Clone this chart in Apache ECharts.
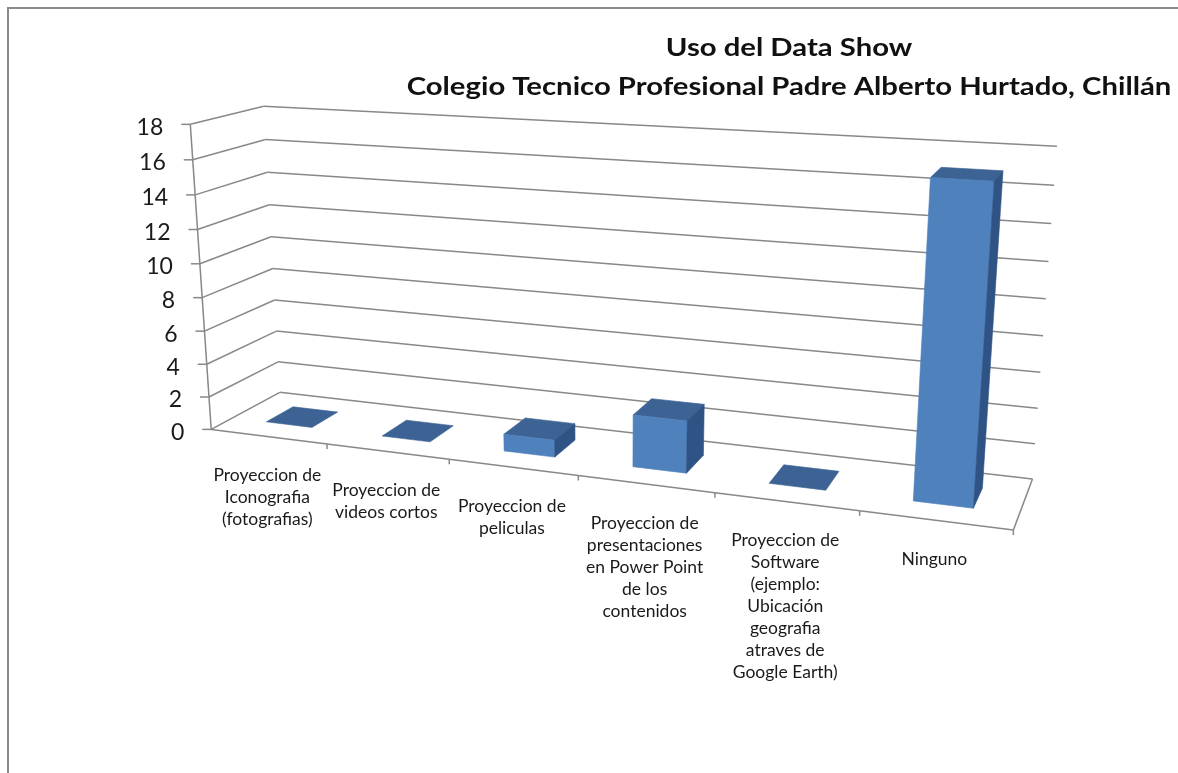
<!DOCTYPE html>
<html>
<head>
<meta charset="utf-8">
<script src="https://cdn.jsdelivr.net/npm/echarts@6/dist/echarts.min.js"></script>
<style>
  html, body { margin: 0; padding: 0; background: #ffffff; }
  #chart { width: 1178px; height: 773px; }
</style>
</head>
<body>
<div id="chart"></div>
<script>
// ---- data ----
const categories = [
  'Proyeccion de\nIconografia\n(fotografias)',
  'Proyeccion de\nvideos cortos',
  'Proyeccion de\npeliculas',
  'Proyeccion de\npresentaciones\nen Power Point\nde los\ncontenidos',
  'Proyeccion de\nSoftware\n(ejemplo:\nUbicación\ngeografia\natraves de\nGoogle Earth)',
  'Ninguno'
];
const values = [0, 0, 1, 3, 0, 17];
const yTicks = [0, 2, 4, 6, 8, 10, 12, 14, 16, 18];
const titleLines = ['Uso del Data Show', 'Colegio Tecnico Profesional Padre Alberto Hurtado, Chillán'];

// ---- look ----
const FONT = 'Lato, "Open Sans", "DejaVu Sans", sans-serif';
const GRID_COLOR = '#888888';
const FACE_FRONT = '#4F81BD';
const FACE_TOP = '#3C6393';
const FACE_SIDE = '#2F5384';
const BAR_WIDTH = 0.4;          // share of a category slot
const BAR_DEPTH = [0.3, 0.7];   // front / back of the bars inside the floor depth
const N_CAT = categories.length;
const Y_MAX = yTicks[yTicks.length - 1];

// ---- 3D box layout: model corners (category units, value fraction, depth) -> page position ----
const frameAnchors = [
  [0, 0, 0, 212, 428], [0, 1, 0, 191, 123], [0, 0, 1, 280, 392], [0, 1, 1, 263, 107],
  [6, 0, 1, 1033, 478], [6, 1, 1, 1057, 147], [6, 0, 0, 1013, 528],
  [1, 0, 0, 327, 445], [2, 0, 0, 448, 460], [3, 0, 0, 578, 477], [4, 0, 0, 715, 493], [5, 0, 0, 860, 512]
];

// least-squares fit of a 3x4 perspective matrix (last entry fixed to 1)
function solveProjection(pts) {
  const A = [], b = [];
  pts.forEach(([X, Y, Z, u0, v0]) => {
    const u = u0 / 1000, v = v0 / 1000;
    A.push([X, Y, Z, 1, 0, 0, 0, 0, -u * X, -u * Y, -u * Z]); b.push(u);
    A.push([0, 0, 0, 0, X, Y, Z, 1, -v * X, -v * Y, -v * Z]); b.push(v);
  });
  const n = 11, M = [];
  for (let i = 0; i < n; i++) {
    const row = new Array(n + 1).fill(0);
    for (let j = 0; j < n; j++) {
      let s = 0;
      for (let k = 0; k < A.length; k++) s += A[k][i] * A[k][j];
      row[j] = s;
    }
    let s = 0;
    for (let k = 0; k < A.length; k++) s += A[k][i] * b[k];
    row[n] = s;
    M.push(row);
  }
  for (let c = 0; c < n; c++) {
    let p = c;
    for (let r = c + 1; r < n; r++) if (Math.abs(M[r][c]) > Math.abs(M[p][c])) p = r;
    [M[c], M[p]] = [M[p], M[c]];
    for (let r = 0; r < n; r++) {
      if (r === c) continue;
      const f = M[r][c] / M[c][c];
      for (let k = c; k <= n; k++) M[r][k] -= f * M[c][k];
    }
  }
  return M.map((row, i) => row[n] / row[i]);
}
const PM = solveProjection(frameAnchors);
function project(X, V, Z) {
  const w = PM[8] * X + PM[9] * V + PM[10] * Z + 1;
  return [
    (PM[0] * X + PM[1] * V + PM[2] * Z + PM[3]) / w * 1000,
    (PM[4] * X + PM[5] * V + PM[6] * Z + PM[7]) / w * 1000
  ];
}

// pixel position on the flat (hidden) cartesian grid -> model units
function toModel(params, api, cat, val) {
  const cs = params.coordSys;
  const c = api.coord([cat, val]);
  return { X: (c[0] - cs.x) / cs.width * N_CAT, V: (cs.y + cs.height - c[1]) / cs.height };
}
function bandInModel(params, api) {
  return api.size([1, 0])[0] / params.coordSys.width * N_CAT;
}
function seg(a, b, width) {
  return { type: 'line', shape: { x1: a[0], y1: a[1], x2: b[0], y2: b[1] },
           style: { stroke: GRID_COLOR, lineWidth: width || 1.5 }, silent: true };
}
function area(pts) {
  let s = 0;
  for (let i = 0; i < pts.length; i++) {
    const a = pts[i], b = pts[(i + 1) % pts.length];
    s += a[0] * b[1] - b[0] * a[1];
  }
  return s / 2;
}

// walls: one horizontal gridline per value tick, with its tick mark and label
function renderWallLine(params, api) {
  const t = api.value(1);
  const m = toModel(params, api, 0, t);
  const front = project(0, m.V, 0), corner = project(0, m.V, 1), far = project(N_CAT, m.V, 1);
  return {
    type: 'group',
    children: [
      seg(front, corner),
      seg(corner, far),
      seg([front[0] - 9, front[1]], front),
      { type: 'text', x: front[0] - 27, y: front[1] + 3, silent: true,
        style: { text: String(t), fill: '#1a1a1a', font: '23px ' + FONT, align: 'right', verticalAlign: 'middle' } }
    ]
  };
}

// floor front edge, category ticks, vertical axis and category labels
function renderFloorSlot(params, api) {
  const i = api.value(0);
  const band = bandInModel(params, api);
  const mid = toModel(params, api, i, 0);
  const left = mid.X - band / 2, right = mid.X + band / 2;
  const a = project(left, mid.V, 0), b = project(right, mid.V, 0), c = project(mid.X, mid.V, 0);
  const children = [seg(a, b), seg(b, [b[0], b[1] + 5])];
  if (i === 0) {
    const topV = toModel(params, api, 0, Y_MAX).V;
    children.push(seg(a, project(left, topV, 0)));
  }
  if (i === N_CAT - 1) children.push(seg(b, project(right, mid.V, 1)));
  children.push({
    type: 'text', x: c[0] - 1, y: c[1] + 28, silent: true,
    style: { text: categories[i], fill: '#1a1a1a', font: '17.5px ' + FONT, lineHeight: 22,
             align: 'center', verticalAlign: 'top' }
  });
  return { type: 'group', children };
}

// 3D column drawn as the visible faces of a box
function renderBar(params, api) {
  const i = api.value(0), val = api.value(1);
  const band = bandInModel(params, api);
  const top = toModel(params, api, i, val), base = toModel(params, api, i, 0);
  const x0 = top.X - band * BAR_WIDTH / 2, x1 = top.X + band * BAR_WIDTH / 2;
  const y0 = base.V, y1 = top.V, z0 = BAR_DEPTH[0], z1 = BAR_DEPTH[1];
  const faces = [
    { v: [[x0, y1, z0], [x1, y1, z0], [x1, y1, z1], [x0, y1, z1]], fill: FACE_TOP },   // top
    { v: [[x0, y0, z0], [x1, y0, z0], [x1, y1, z0], [x0, y1, z0]], fill: FACE_FRONT }, // front
    { v: [[x1, y0, z0], [x1, y0, z1], [x1, y1, z1], [x1, y1, z0]], fill: FACE_SIDE },  // right
    { v: [[x0, y0, z1], [x0, y0, z0], [x0, y1, z0], [x0, y1, z1]], fill: FACE_SIDE },  // left
    { v: [[x1, y0, z1], [x0, y0, z1], [x0, y1, z1], [x1, y1, z1]], fill: FACE_SIDE },  // back
    { v: [[x1, y0, z0], [x0, y0, z0], [x0, y0, z1], [x1, y0, z1]], fill: FACE_TOP }    // bottom
  ];
  const proj = faces.map(f => f.v.map(p => project(p[0], p[1], p[2])));
  const ref = Math.sign(area(proj[0]));
  const children = [];
  faces.forEach((f, k) => {
    const a = area(proj[k]);
    if (Math.abs(a) < 0.5 || Math.sign(a) !== ref) return;
    children.push({ type: 'polygon', shape: { points: proj[k] }, silent: true,
                    style: { fill: f.fill, stroke: f.fill, lineWidth: 0.6 } });
  });
  return { type: 'group', children };
}

const chart = echarts.init(document.getElementById('chart'), null, { renderer: 'canvas' });
chart.setOption({
  animation: false,
  backgroundColor: '#ffffff',
  grid: { left: 100, right: 100, top: 100, bottom: 100 },
  xAxis: { type: 'category', data: categories, show: false },
  yAxis: { type: 'value', min: 0, max: Y_MAX, interval: 2, show: false },
  graphic: [
    { type: 'rect', shape: { x: 8, y: 8, width: 1200, height: 800 }, silent: true,
      style: { fill: 'none', stroke: '#8a8a8a', lineWidth: 2 } },
    { type: 'text', x: 789, y: 48, scaleX: 1.22, silent: true,
      style: { text: titleLines[0], fill: '#111', font: 'bold 24px ' + FONT, align: 'center', verticalAlign: 'middle' } },
    { type: 'text', x: 789, y: 87, scaleX: 1.22, silent: true,
      style: { text: titleLines[1], fill: '#111', font: 'bold 24px ' + FONT, align: 'center', verticalAlign: 'middle' } }
  ],
  series: [
    { type: 'custom', name: 'walls', coordinateSystem: 'cartesian2d', clip: false,
      data: yTicks.map(t => [0, t]), renderItem: renderWallLine },
    { type: 'custom', name: 'floor', coordinateSystem: 'cartesian2d', clip: false,
      data: categories.map((c, i) => [i, 0]), renderItem: renderFloorSlot },
    { type: 'custom', name: 'Uso', coordinateSystem: 'cartesian2d', clip: false,
      data: values.map((v, i) => [i, v]), renderItem: renderBar }
  ]
});
</script>
</body>
</html>
